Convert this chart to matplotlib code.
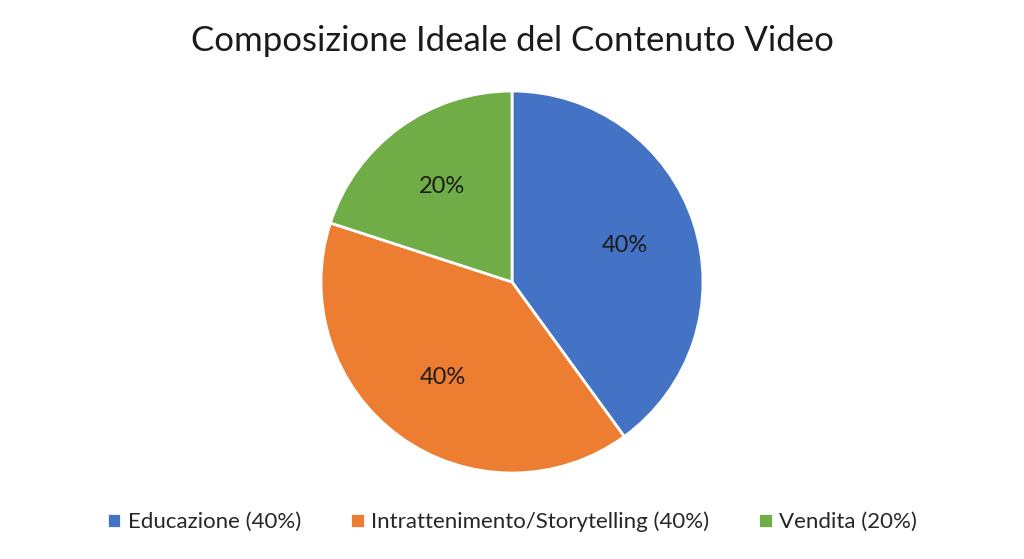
import matplotlib

matplotlib.use("Agg")
import matplotlib.pyplot as plt  # noqa: E402

plt.rcParams["font.family"] = ["Lato", "DejaVu Sans"]

INK = "#1b1b1b"

categories = ["Educazione", "Intrattenimento/Storytelling", "Vendita"]
shares = [40, 40, 20]
colors = ["#4472C4", "#ED7D31", "#70AD47"]
legend_labels = [f"{c} ({v}%)" for c, v in zip(categories, shares)]

fig = plt.figure(figsize=(10.24, 5.59), dpi=100)
fig.patch.set_facecolor("white")

# pie box: centre ~ (512, 282) px, radius ~ 191 px
r_px = 191
ax = fig.add_axes([(512 - r_px) / 1024, (559 - 282 - r_px) / 559,
                   2 * r_px / 1024, 2 * r_px / 559])
wedges, _, autotexts = ax.pie(
    shares, colors=colors, startangle=90, counterclock=False,
    autopct="%d%%", pctdistance=0.62, radius=1.0,
    wedgeprops=dict(edgecolor="white", linewidth=2),
    textprops=dict(fontsize=17, color=INK),
)
ax.set_xlim(-1, 1)
ax.set_ylim(-1, 1)
ax.set_aspect("equal")

fig.text(0.5, 1 - 41 / 559, "Composizione Ideale del Contenuto Video",
         ha="center", va="center", fontsize=25, color=INK)

fig.legend(wedges, legend_labels, loc="center", bbox_to_anchor=(0.5, 1 - 522 / 559),
           ncol=3, frameon=False, fontsize=16, handlelength=0.65, handleheight=0.65,
           handletextpad=0.3, columnspacing=2.2, labelcolor="#262626")

fig.savefig("out.png", dpi=100)
